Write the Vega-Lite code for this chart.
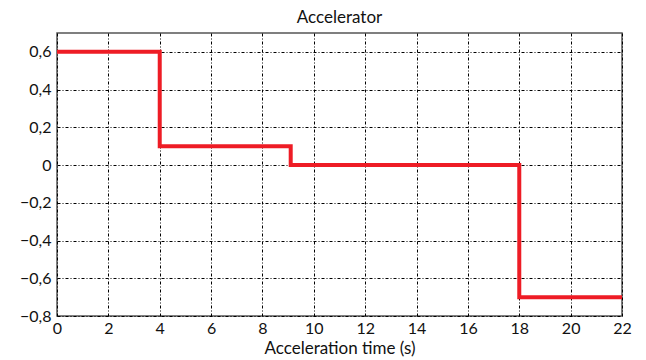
{
  "$schema": "https://vega.github.io/schema/vega-lite/v6.json",
  "width": 565,
  "height": 283,
  "autosize": {"type": "none"},
  "padding": {"left": 57, "top": 33, "right": 24, "bottom": 44},
  "background": "white",
  "title": {"text": "Accelerator", "font": "Lato", "fontSize": 17, "fontWeight": "normal", "color": "#111", "offset": 6},
  "config": {
    "view": {"stroke": "#555", "strokeWidth": 1.5},
    "axis": {"labelFont": "Lato", "labelFontSize": 16, "labelColor": "#111", "titleFont": "Lato", "titleFontSize": 17, "titleFontWeight": "normal", "titleColor": "#111", "ticks": false, "domain": false, "grid": true, "gridColor": "black", "gridDash": [3, 2, 1, 2], "gridOpacity": 1, "gridWidth": 1, "labelFlush": false}
  },
  "data": {"values": [
    {"t": 0, "a": 0.6},
    {"t": 4, "a": 0.1},
    {"t": 9.1, "a": 0},
    {"t": 18, "a": -0.7},
    {"t": 22, "a": -0.7}
  ]},
  "mark": {"type": "line", "interpolate": "step-after", "color": "#ee1c25", "strokeWidth": 4},
  "encoding": {
    "x": {"field": "t", "type": "quantitative", "scale": {"domain": [0, 22], "nice": false},
      "axis": {"values": [0, 2, 4, 6, 8, 10, 12, 14, 16, 18, 20, 22], "title": "Acceleration time (s)", "labelPadding": 4, "titlePadding": 4}},
    "y": {"field": "a", "type": "quantitative", "scale": {"domain": [-0.8, 0.7], "nice": false, "zero": false},
      "axis": {"values": [-0.8, -0.6, -0.4, -0.2, 0, 0.2, 0.4, 0.6], "title": null, "labelPadding": 6,
        "labelExpr": "datum.value == 0 ? '0' : replace(format(datum.value, '.1f'), '.', ',')"}}
  }
}
